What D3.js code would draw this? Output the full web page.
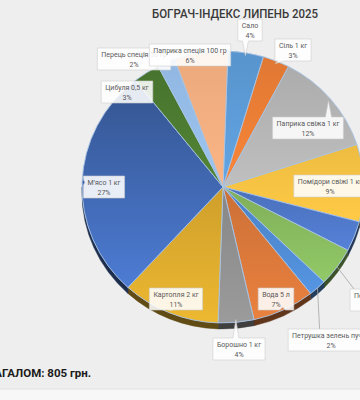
<!DOCTYPE html>
<html><head><meta charset="utf-8">
<script src="https://cdn.jsdelivr.net/npm/d3@7"></script>
<style>
html,body{margin:0;padding:0;background:#eeeeee;}
svg{display:block;}
</style></head>
<body>
<svg id="c" width="360" height="400"></svg>
<script>
// ---- data ----
const title = "БОГРАЧ-ІНДЕКС ЛИПЕНЬ 2025";
const categories = ["Сало","Сіль 1 кг","Паприка свіжа 1 кг","Помідори свіжі 1 кг","Часник","Перець гострий","Петрушка зелень пучок","Вода 5 л","Борошно 1 кг","Картопля 2 кг","М’ясо 1 кг","Цибуля 0,5 кг","Перець спеція 50 гр","Паприка спеція 100 гр"];
const values = [4,3,12,9,3.5,4.5,2,7,4,11,27,3,2,6];
const totalLabel = "ЗАГАЛОМ: 805 грн.";

// ---- styles / layout ----
const colors = ["#5d9cd8","#ec7f36","#b5b5b5","#f6c343","#4f78c9","#88bb60","#4f8bd2","#da783b","#909090","#ddab2e","#3f66ae","#4c7c31","#96bee9","#f3af80"];
const gradDark = [0.15,0.15,0.15,0.1,0.2,0.2,0.2,0.2,0.2,0.2,0.55,0.2,0.1,0.1];
// label box centres and pointer side (annotation layout)
const labelLayout = [
  {cx:250, cy:30, notch:"bottom"},
  {cx:293, cy:50, notch:"bottom"},
  {cx:308, cy:128, notch:"top"},
  {cx:330, cy:186, notch:null},
  {cx:420, cy:232, notch:null},
  {cx:380, cy:300, notch:null, leader:true},
  {cx:331, cy:340, notch:null, leader:true},
  {cx:276, cy:299, notch:"bottom"},
  {cx:239, cy:349, notch:"top"},
  {cx:176, cy:299, notch:"bottom"},
  {cx:104, cy:187, notch:"left"},
  {cx:127, cy:92, notch:null},
  {cx:134, cy:59, notch:null},
  {cx:190, cy:55, notch:null}
];

const W = 360, H = 400;
const cx = 223, cy = 187, R = 141, RY = 136, depth = 6;
const svg = d3.select("#c");
const defs = svg.append("defs");

svg.append("rect").attr("width",W).attr("height",H).attr("fill","#eeeeee");
svg.append("rect").attr("y",389).attr("width",W).attr("height",11).attr("fill","#f7f7f7");
svg.append("line").attr("x1",0).attr("x2",W).attr("y1",389).attr("y2",389).attr("stroke","#e2e2e2");

const pie = d3.pie().sort(null).value(d=>d)
  .startAngle(2*Math.PI/180).endAngle(2*Math.PI/180 + 2*Math.PI);
const arcs = pie(values);
const arc = d3.arc().innerRadius(0).outerRadius(R);
const k = RY / R;

// gradients per slice
colors.forEach((c,i)=>{
  const g = defs.append("linearGradient").attr("id","g"+i)
    .attr("x1",0).attr("y1",0).attr("x2",0).attr("y2",1);
  g.append("stop").attr("offset","0%").attr("stop-color", d3.color(c).darker(gradDark[i]));
  g.append("stop").attr("offset","100%").attr("stop-color", d3.color(c).brighter(gradDark[i]));
});

const pieG = svg.append("g").attr("transform",`translate(${cx},${cy}) scale(1,${k})`);

// 3D side (front half)
const dU = depth / k;
arcs.forEach((a,i)=>{
  const a0 = Math.max(a.startAngle, Math.PI/2), a1 = Math.min(a.endAngle, 3*Math.PI/2);
  if (a1 <= a0) return;
  const p = d3.path();
  p.moveTo(R*Math.sin(a0), -R*Math.cos(a0));
  p.arc(0,0,R,a0-Math.PI/2,a1-Math.PI/2,false);
  p.lineTo(R*Math.sin(a1), -R*Math.cos(a1)+dU);
  p.arc(0,dU,R,a1-Math.PI/2,a0-Math.PI/2,true);
  p.closePath();
  pieG.append("path").attr("d",p.toString())
    .attr("fill", d3.color(colors[i]).darker(2.3))
    .attr("stroke", d3.color(colors[i]).darker(2.3)).attr("stroke-width",0.5)
    .attr("vector-effect","non-scaling-stroke");
});

pieG.selectAll("path.slice").data(arcs).join("path").attr("class","slice")
  .attr("d",arc)
  .attr("fill",(d,i)=>`url(#g${i})`)
  .attr("stroke","#a8c3e3").attr("stroke-width",0.9)
  .attr("vector-effect","non-scaling-stroke");

function rim(a,f){ return [cx + R*f*Math.sin(a), cy - RY*f*Math.cos(a)]; }

// title
svg.append("text").attr("x",235).attr("y",18).attr("text-anchor","middle")
  .attr("font-family","Roboto").attr("font-weight",500).attr("font-size",13.5)
  .attr("fill","#3a3a3a").attr("textLength",166).attr("lengthAdjust","spacingAndGlyphs")
  .text(title);

// labels
const lg = svg.append("g").attr("font-family","Roboto").attr("font-size",7).attr("fill","#595959");
labelLayout.forEach((L,i)=>{
  const a = arcs[i];
  const mid = (a.startAngle + a.endAngle)/2;
  const tip = rim(mid, 0.98);
  const g = lg.append("g");
  const t1 = g.append("text").attr("text-anchor","middle").attr("x",L.cx).attr("y",L.cy-2).text(categories[i]);
  const t2 = g.append("text").attr("text-anchor","middle").attr("x",L.cx).attr("y",L.cy+8).text(d3.format(".0f")(values[i])+"%");
  const w = Math.max(t1.node().getComputedTextLength(), t2.node().getComputedTextLength()) + 8;
  const h = 22;
  const x = L.cx - w/2, y = L.cy - 11;
  if (L.leader) {
    lg.insert("line", "g").attr("x1",rim(mid,1.0)[0]).attr("y1",rim(mid,1.0)[1])
      .attr("x2", Math.max(x+4, Math.min(x+w-4, tip[0]+4))).attr("y2", y)
      .attr("stroke","#a6a6a6").attr("stroke-width",0.8);
  }
  const p = d3.path();
  p.moveTo(x,y);
  if (L.notch==="top"){ const b=Math.max(x+3,Math.min(x+w-9,tip[0]-3)); p.lineTo(b,y); p.lineTo(tip[0],tip[1]); p.lineTo(b+6,y); }
  p.lineTo(x+w,y); p.lineTo(x+w,y+h);
  if (L.notch==="bottom"){ const b=Math.max(x+3,Math.min(x+w-9,tip[0]-3)); p.lineTo(b+6,y+h); p.lineTo(tip[0],tip[1]); p.lineTo(b,y+h); }
  p.lineTo(x,y+h);
  if (L.notch==="left"){ const b=Math.max(y+3,Math.min(y+h-9,tip[1]-3)); p.lineTo(x,b+6); p.lineTo(tip[0],tip[1]); p.lineTo(x,b); }
  p.closePath();
  g.insert("path","text").attr("d",p.toString()).attr("fill","#ffffff").attr("fill-opacity",0.88)
    .attr("stroke","#cfcfcf").attr("stroke-width",0.6);
});

// total
const tt = svg.append("text").attr("y",377).attr("x",0)
  .attr("font-family","Roboto").attr("font-weight",700).attr("font-size",11.5).attr("fill","#1a1a1a")
  .text(totalLabel);
const cut = tt.node().getSubStringLength(0,2);
tt.attr("x", 2 - cut);
</script>
</body></html>
